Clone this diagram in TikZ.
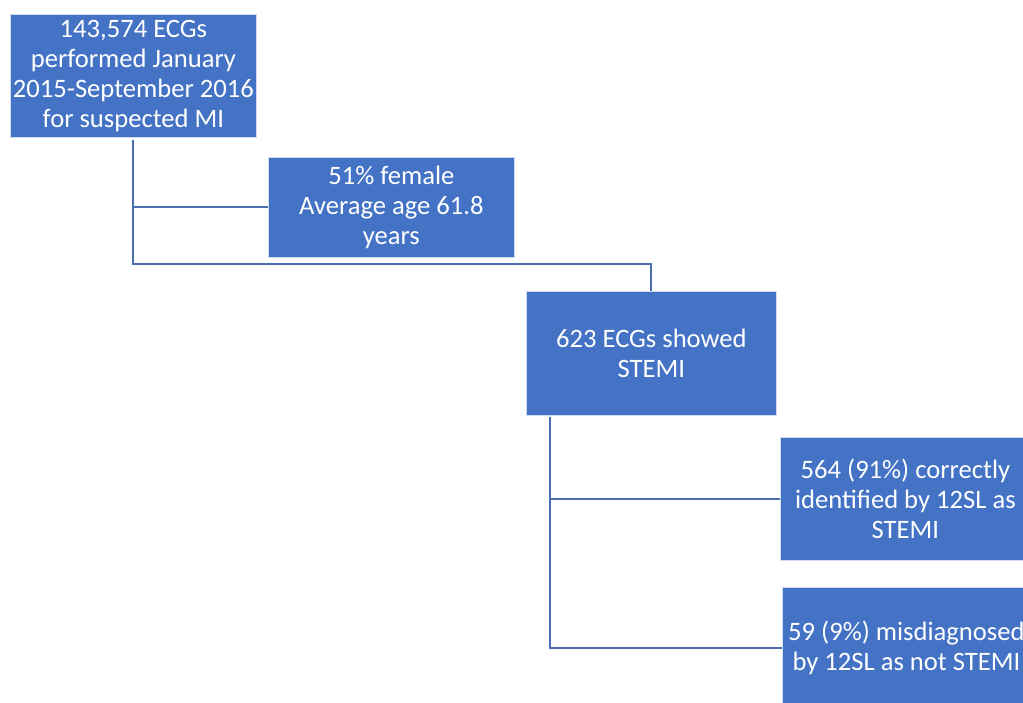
\documentclass[tikz,border=0pt]{standalone}
\usepackage{fontspec}
\setmainfont{Carlito}
\usetikzlibrary{positioning}
\definecolor{boxblue}{HTML}{4472C4}
\definecolor{linkblue}{HTML}{4A6FB0}
\tikzset{
  flowbox/.style={fill=boxblue, draw=white!75!boxblue, line width=0.8pt, text=white,
    align=center, inner sep=0pt, anchor=north west,
    font=\fontsize{26.6}{30}\selectfont},
  link/.style={draw=linkblue, line width=2pt}
}
\begin{document}
\begin{tikzpicture}[x=1pt,y=-1pt]
\clip (0,0) rectangle (1023,702);
\fill [white] (0,0) rectangle (1023,702);
% boxes
\node [flowbox, minimum width=246, minimum height=123] (ecgs) at (10,14)
  {143,574 ECGs\\performed January\\2015-September 2016\\for suspected MI};
\node [flowbox, minimum width=246, minimum height=100] (demo) at (268,157)
  {51\% female\\Average age 61.8\\years};
\node [flowbox, minimum width=250, minimum height=124] (stemi) at (526,291)
  {623 ECGs showed\\STEMI};
\node [flowbox, minimum width=250, minimum height=123] (correct) at (780,437)
  {564 (91\%) correctly\\identified by 12SL as\\STEMI};
\node [flowbox, minimum width=248, minimum height=122] (missed) at (782,587)
  {59 (9\%) misdiagnosed\\by 12SL as not STEMI};
%
% connectors
\coordinate (top) at (133,140);
\coordinate (split) at (133,264);
\coordinate (stem) at (550,417);
\draw [link] (top) |- (demo.west);
\draw [link] (top) -- (split) -| (stemi.north);
\draw [link] (stem) |- (correct.west);
\draw [link] (stem) |- (missed.west);
\end{tikzpicture}
\end{document}
